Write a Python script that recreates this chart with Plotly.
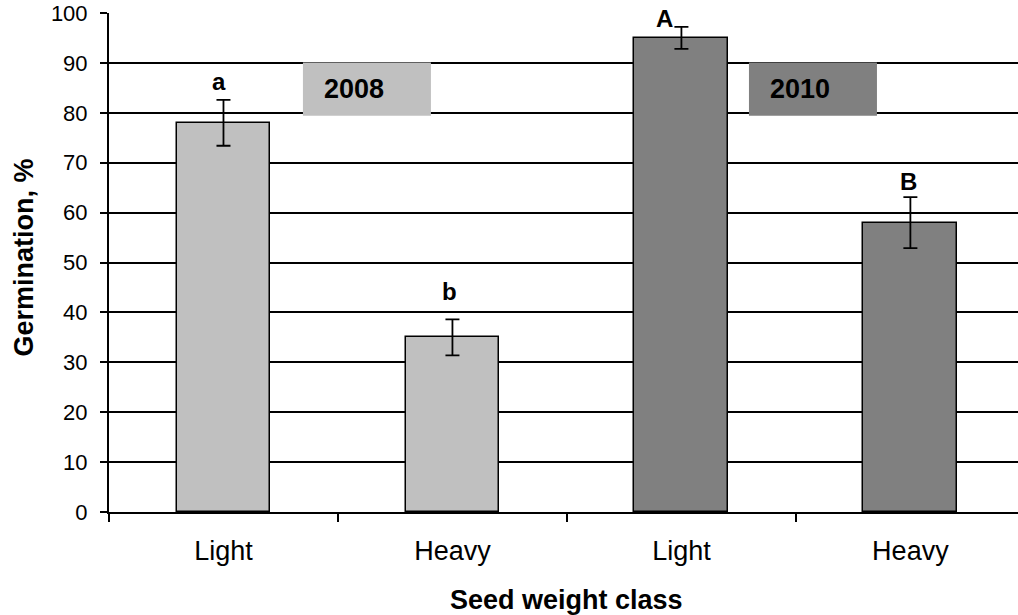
import plotly.graph_objects as go

# ---- data ----
years = ["2008", "2008", "2010", "2010"]
classes = ["Light", "Heavy", "Light", "Heavy"]
germination = [78, 35, 95, 58]
errors = [4.6, 3.6, 2.2, 5.1]
letters = ["a", "b", "A", "B"]
bar_colors = ["#C0C0C0", "#C0C0C0", "#808080", "#808080"]
y_ticks = [0, 10, 20, 30, 40, 50, 60, 70, 80, 90, 100]

keys = [f"{y} {c}" for y, c in zip(years, classes)]

fig = go.Figure()
fig.add_trace(go.Bar(
    x=keys, y=germination,
    marker=dict(color=bar_colors, line=dict(color="black", width=1.5)),
    width=0.41,
    error_y=dict(type="data", array=errors, visible=True,
                 color="black", thickness=1.8, width=7),
    showlegend=False,
))

FONT = "Liberation Sans, Arial, sans-serif"

# letters above bars (layout positions)
letter_pos = [(-0.021, 84.4), (0.985, 42.3), (1.924, 97.0), (2.993, 64.4)]
for t, (lx, ly) in zip(letters, letter_pos):
    fig.add_annotation(x=lx, y=ly, xref="x", yref="y", text=f"<b>{t}</b>",
                       showarrow=False, xanchor="center", yanchor="bottom",
                       yshift=-6,
                       font=dict(family=FONT, size=24, color="black"))

# year boxes
box_specs = [("2008", "#C0C0C0", 0.347, 0.906, 0.432),
             ("2010", "#808080", 2.295, 2.854, 2.378)]
for label, col, x0, x1, tx in box_specs:
    fig.add_shape(type="rect", xref="x", yref="y", x0=x0, x1=x1, y0=79.4, y1=90.1,
                  fillcolor=col, line=dict(width=0), layer="above")
    fig.add_annotation(x=tx, y=84.7, xref="x", yref="y", text=f"<b>{label}</b>",
                       showarrow=False, xanchor="left", yanchor="middle",
                       font=dict(family=FONT, size=27, color="black"))

# axis titles
fig.add_annotation(x=1.5, xref="x", y=0, yref="paper", yshift=-88,
                   text="<b>Seed weight class</b>", showarrow=False,
                   xanchor="center", yanchor="middle",
                   font=dict(family=FONT, size=27, color="black"))
fig.add_annotation(x=0, xref="paper", xshift=-86, y=0.5, yref="paper", yshift=5,
                   text="<b>Germination, %</b>", showarrow=False, textangle=-90,
                   xanchor="center", yanchor="middle",
                   font=dict(family=FONT, size=27, color="black"))

fig.update_layout(
    width=1018, height=615,
    margin=dict(l=109, r=0, t=13, b=103),
    plot_bgcolor="white", paper_bgcolor="white",
    bargap=0,
    font=dict(family=FONT, color="black"),
    xaxis=dict(
        type="category", range=[-0.5, 3.47],
        tickvals=keys, ticktext=classes, tickson="boundaries",
        ticks="outside", ticklen=8, tickwidth=1.5, tickcolor="black",
        showline=True, linecolor="black", linewidth=2,
        showgrid=False, tickfont=dict(size=27, family=FONT, color="black"),
        ticklabelstandoff=14,
    ),
    yaxis=dict(
        range=[0, 100], tickvals=y_ticks,
        ticks="outside", ticklen=7, tickwidth=1.5, tickcolor="black",
        showline=True, linecolor="black", linewidth=2,
        showgrid=True, gridcolor="black", gridwidth=1.5,
        zeroline=False,
        tickfont=dict(size=22, family=FONT, color="black"),
        ticklabelstandoff=8,
    ),
)

fig.write_html("out.html",
               config={"displayModeBar": False},
               post_script="document.body.style.margin='0';document.body.style.overflow='hidden';")
